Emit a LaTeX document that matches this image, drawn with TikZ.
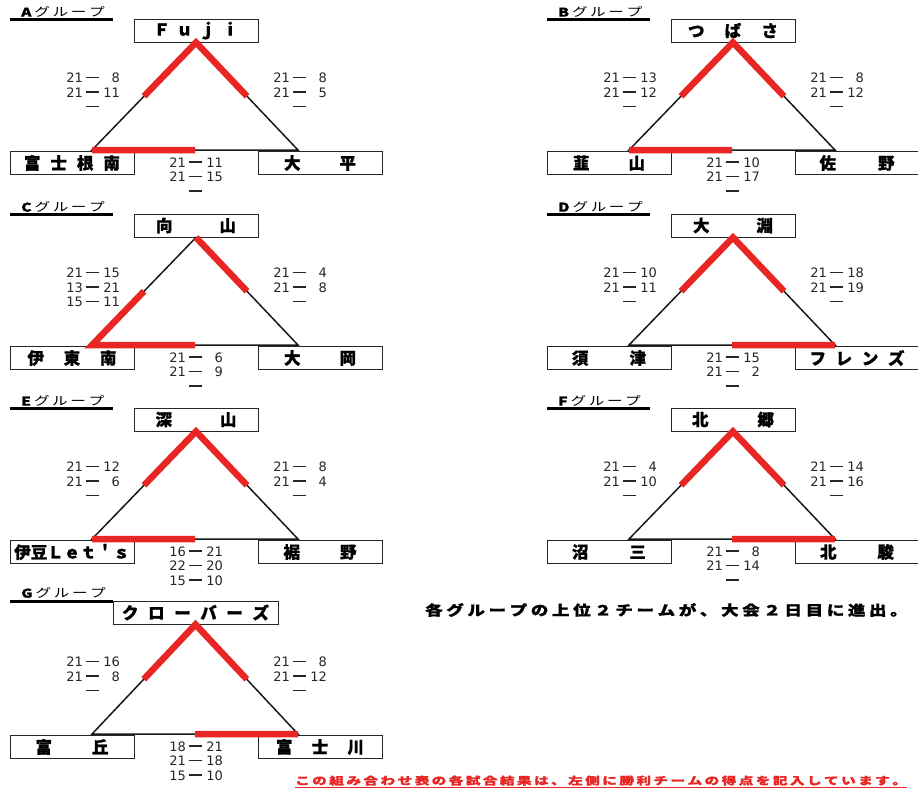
\documentclass[tikz,border=0pt]{standalone}
\usepackage{fontspec}
\usepackage{graphicx}
\usetikzlibrary{calc}
\newfontfamily\jp{Noto Sans CJK JP}
\newfontfamily\jph{Noto Sans CJK JP}[BoldFeatures={FakeBold=1}]
\newfontfamily\numf{DejaVu Sans}
\definecolor{wred}{RGB}{232,38,36}

\def\sprA#1{\ifx#1\relax\else\hfil#1\expandafter\sprA\fi}
\def\sprB#1{#1\sprA}
\newcommand\spreadtext[2]{\makebox[#1][s]{\sprB#2\relax}}
\newcommand\scorel[2]{\makebox[18pt][r]{#1}\hspace{3pt}\rule[4.5pt]{13pt}{1.2pt}\hspace{3pt}\makebox[18pt][r]{#2}}

\tikzset{
 teambox/.style={draw=black!85, line width=0.9pt, minimum width=124pt, minimum height=23pt, inner sep=0pt, font=\jph\bfseries\fontsize{16.5}{16.5}\selectfont},
 scores/.style={anchor=north, align=center, inner sep=0pt, font=\numf\fontsize{13}{14.5}\selectfont, text=black!85},
 tri/.style={line width=1.5pt, black!90},
 win/.style={line width=6.5pt, wred},
 grplabel/.style={anchor=west, inner sep=0pt, font=\jp\fontsize{12}{12}\selectfont},
 bar/.style={line width=3pt},
}

% #1 prefix, #2 dx, #3 dy, #4 left name, #5 right name, #6 left scores, #7 right scores, #8 bottom scores
\newcommand\tgroup[8]{%
 \node[teambox] (#1-l) at (72+#2,163+#3) {#4};
 \node[teambox] (#1-r) at (320+#2,163+#3) {#5};
 \coordinate (#1-a) at (#1-top.south);
 \coordinate (#1-bl) at ([xshift=20pt,yshift=1pt]#1-l.north);
 \coordinate (#1-br) at ([xshift=-22pt,yshift=1pt]#1-r.north);
 \coordinate (#1-ml) at ($(#1-a)!0.5!(#1-bl)$);
 \coordinate (#1-mr) at ($(#1-a)!0.5!(#1-br)$);
 \coordinate (#1-mb) at ($(#1-bl)!0.5!(#1-br)$);
 \draw[tri] (#1-a) -- (#1-bl) -- (#1-br) -- cycle;
 \node[scores] (#1-sl) at (92.5+#2,72.7+#3) {#6};
 \node[scores] (#1-sr) at (299.5+#2,72.7+#3) {#7};
 \node[scores] (#1-sb) at (195.5+#2,157.3+#3) {#8};
}
% #1 prefix, #2 letter, #3 dx, #4 label y, #5 bar y
\newcommand\glabel[5]{%
 \node[grplabel] (#1-lab) at (21+#3,#4) {\scalebox{1.3}[1]{{\jph\bfseries #2}}\hspace{3pt}\scalebox{1.3}[1]{\spreadtext{54pt}{グループ}}};
 \draw[bar] (10+#3,#5) -- (113+#3,#5);
}

\begin{document}
\begin{tikzpicture}[x=1pt,y=-1pt]
\fill[white] (0,0) rectangle (918,787);
\useasboundingbox (0,0) rectangle (918,787);

% ---------- A ----------
\glabel{A}{A}{0}{12}{19}
\node[teambox] (A-top) at (196,30.5) {\spreadtext{85pt}{Ｆｕｊｉ}};
\tgroup{A}{0}{0}{\spreadtext{96pt}{富士根南}}{\spreadtext{72pt}{大平}}
 {\scorel{21}{8}\\\scorel{21}{11}\\\scorel{}{}}
 {\scorel{21}{8}\\\scorel{21}{5}\\\scorel{}{}}
 {\scorel{21}{11}\\\scorel{21}{15}\\\scorel{}{}}
\draw[win] (A-ml) -- (A-a) -- (A-mr);
\draw[win] (A-bl) -- (A-mb);

% ---------- B ----------
\glabel{B}{B}{537}{12}{19}
\node[teambox] (B-top) at (733,30.5) {\spreadtext{90pt}{つばさ}};
\tgroup{B}{537}{0}{\spreadtext{72pt}{韮山}}{\spreadtext{75pt}{佐野}}
 {\scorel{21}{13}\\\scorel{21}{12}\\\scorel{}{}}
 {\scorel{21}{8}\\\scorel{21}{12}\\\scorel{}{}}
 {\scorel{21}{10}\\\scorel{21}{17}\\\scorel{}{}}
\draw[win] (B-ml) -- (B-a) -- (B-mr);
\draw[win] (B-bl) -- (B-mb);

% ---------- C ----------
\glabel{C}{C}{0}{207}{214}
\node[teambox] (C-top) at (196,225.5) {\spreadtext{80pt}{向山}};
\tgroup{C}{0}{195}{\spreadtext{89pt}{伊東南}}{\spreadtext{72pt}{大岡}}
 {\scorel{21}{15}\\\scorel{13}{21}\\\scorel{15}{11}}
 {\scorel{21}{4}\\\scorel{21}{8}\\\scorel{}{}}
 {\scorel{21}{6}\\\scorel{21}{9}\\\scorel{}{}}
\draw[win] (C-ml) -- (C-bl) -- (C-mb);
\draw[win] (C-a) -- (C-mr);

% ---------- D ----------
\glabel{D}{D}{537}{207}{214}
\node[teambox] (D-top) at (733,225.5) {\spreadtext{80pt}{大淵}};
\tgroup{D}{537}{195}{\spreadtext{74pt}{須津}}{\spreadtext{95pt}{フレンズ}}
 {\scorel{21}{10}\\\scorel{21}{11}\\\scorel{}{}}
 {\scorel{21}{18}\\\scorel{21}{19}\\\scorel{}{}}
 {\scorel{21}{15}\\\scorel{21}{2}\\\scorel{}{}}
\draw[win] (D-ml) -- (D-a) -- (D-mr);
\draw[win] (D-mb) -- (D-br);

% ---------- E ----------
\glabel{E}{E}{0}{401}{408}
\node[teambox] (E-top) at (196,419.5) {\spreadtext{81pt}{深山}};
\tgroup{E}{0}{389}{伊豆Ｌｅｔ＇ｓ}{\spreadtext{73pt}{裾野}}
 {\scorel{21}{12}\\\scorel{21}{6}\\\scorel{}{}}
 {\scorel{21}{8}\\\scorel{21}{4}\\\scorel{}{}}
 {\scorel{16}{21}\\\scorel{22}{20}\\\scorel{15}{10}}
\draw[win] (E-ml) -- (E-a) -- (E-mr);
\draw[win] (E-bl) -- (E-mb);

% ---------- F ----------
\glabel{F}{F}{537}{401}{408}
\node[teambox] (F-top) at (733,419.5) {\spreadtext{82pt}{北郷}};
\tgroup{F}{537}{389}{\spreadtext{74pt}{沼三}}{\spreadtext{74pt}{北駿}}
 {\scorel{21}{4}\\\scorel{21}{10}\\\scorel{}{}}
 {\scorel{21}{14}\\\scorel{21}{16}\\\scorel{}{}}
 {\scorel{21}{8}\\\scorel{21}{14}\\\scorel{}{}}
\draw[win] (F-ml) -- (F-a) -- (F-mr);
\draw[win] (F-mb) -- (F-br);

% ---------- G ----------
\glabel{G}{G}{0}{593}{601}
\node[teambox, minimum width=165pt] (G-top) at (195.5,612.5) {\spreadtext{147pt}{クローバーズ}};
\tgroup{G}{0}{584}{\spreadtext{73pt}{富丘}}{\spreadtext{88pt}{富士川}}
 {\scorel{21}{16}\\\scorel{21}{8}\\\scorel{}{}}
 {\scorel{21}{8}\\\scorel{21}{12}\\\scorel{}{}}
 {\scorel{18}{21}\\\scorel{21}{18}\\\scorel{15}{10}}
\draw[win] (G-ml) -- (G-a) -- (G-mr);
\draw[win] (G-mb) -- (G-br);

% ---------- notes ----------
\node[anchor=west, inner sep=0pt, font=\jph\bfseries\fontsize{14}{14}\selectfont] (note) at (425,610)
 {\scalebox{1.25}[1]{\spreadtext{386pt}{各グループの上位２チームが、大会２日目に進出。}}};
\node[anchor=west, inner sep=0pt, text=wred, font=\jph\bfseries\fontsize{10.5}{10.5}\selectfont] (rnote) at (295,780.5)
 {\scalebox{1.4}[1]{\spreadtext{437pt}{この組み合わせ表の各試合結果は、左側に勝利チームの得点を記入しています。}}};
\draw[wred, line width=1.5pt] ([yshift=-1.5pt]rnote.south west) -- ([yshift=-1.5pt]rnote.south east);
\end{tikzpicture}
\end{document}
